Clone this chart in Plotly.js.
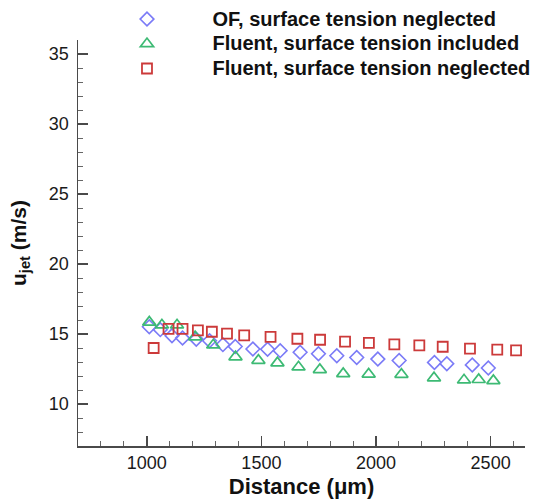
<!DOCTYPE html>
<html>
<head>
<meta charset="utf-8">
<script src="https://cdn.plot.ly/plotly-3.0.1.min.js"></script>
<style>html,body{margin:0;padding:0;background:#fff;}#chart{width:550px;height:499px;}</style>
</head>
<body>
<div id="chart"></div>
<script>
// OF, surface tension neglected (diamonds)
const ofX = [1011,1059,1110,1156,1216,1274,1332,1386,1463,1527,1582,1669,1749,1829,1916,2008,2101,2255,2309,2420,2490];
const ofY = [15.52,15.31,14.88,14.71,14.63,14.52,14.24,14.11,13.93,13.91,13.81,13.70,13.59,13.45,13.32,13.21,13.11,12.97,12.88,12.79,12.57];
// Fluent, surface tension included (triangles)
const flInX = [1011,1066,1132,1211,1290,1387,1487,1570,1662,1755,1857,1968,2111,2253,2384,2448,2512];
const flInY = [15.84,15.64,15.64,14.79,14.21,13.36,13.11,12.93,12.64,12.45,12.16,12.13,12.11,11.86,11.71,11.74,11.66];
// Fluent, surface tension neglected (squares)
const flNeX = [1030,1095,1156,1223,1284,1350,1425,1540,1657,1756,1865,1969,2080,2189,2291,2410,2529,2611];
const flNeY = [14.0,15.36,15.36,15.26,15.16,15.02,14.9,14.8,14.66,14.59,14.45,14.36,14.26,14.19,14.09,13.95,13.88,13.83];

const names = ['OF, surface tension neglected','Fluent, surface tension included','Fluent, surface tension neglected'];

const font = 'Liberation Sans, Arial, Helvetica, sans-serif';
const big = s => '<span style="font-size:20px">' + s + '</span>';

const traces = [
  {x: ofX, y: ofY, name: big(names[0]), type: 'scatter', mode: 'markers',
   marker: {symbol: 'diamond-open', size: 10.5, color: '#7b7bf7', line: {width: 1.6, color: '#7b7bf7'}}},
  {x: flInX, y: flInY, name: big(names[1]), type: 'scatter', mode: 'markers',
   marker: {symbol: 'triangle-up-open', size: 11.5, color: '#3dba74', line: {width: 1.7, color: '#3dba74'}}},
  {x: flNeX, y: flNeY, name: big(names[2]), type: 'scatter', mode: 'markers',
   marker: {symbol: 'square-open', size: 10, color: '#cc3a3a', line: {width: 1.8, color: '#cc3a3a'}}}
];

const axisCommon = {
  showline: true, linecolor: '#4a4a4a', linewidth: 1.5, mirror: false,
  showgrid: false, zeroline: false, automargin: false,
  ticks: 'inside', ticklen: 10, tickwidth: 1.5, tickcolor: '#4a4a4a',
  tickfont: {family: font, size: 18, color: '#1a1a1a'}
};

const layout = {
  width: 550, height: 499,
  margin: {l: 78, r: 25, t: 40, b: 53, autoexpand: false},
  paper_bgcolor: '#fff', plot_bgcolor: '#fff',
  showlegend: true,
  legend: {
    x: 0.0078, y: 1.0943, xanchor: 'left', yanchor: 'top',
    itemwidth: 121, bgcolor: 'rgba(0,0,0,0)',
    font: {family: font, size: 16.7, color: '#111', weight: 'bold'}
  },
  xaxis: Object.assign({}, axisCommon, {
    range: [700, 2650], tickmode: 'linear', tick0: 1000, dtick: 500,
    minor: {ticks: 'inside', ticklen: 5, tickwidth: 1, tickcolor: '#666', dtick: 100, showgrid: false},
    title: {text: '<b>Distance (μm)</b>', font: {family: font, size: 22, color: '#111'}}
  }),
  yaxis: Object.assign({}, axisCommon, {
    range: [7, 36], tickmode: 'linear', tick0: 0, dtick: 5, ticklabelstandoff: 4,
    minor: {ticks: 'inside', ticklen: 5, tickwidth: 1, tickcolor: '#666', dtick: 1, showgrid: false},
    title: {text: '<b>u<sub>jet</sub> (m/s)</b>', font: {family: font, size: 21, color: '#111'}}
  })
};

Plotly.newPlot('chart', traces, layout, {displayModeBar: false, staticPlot: true});
</script>
</body>
</html>
